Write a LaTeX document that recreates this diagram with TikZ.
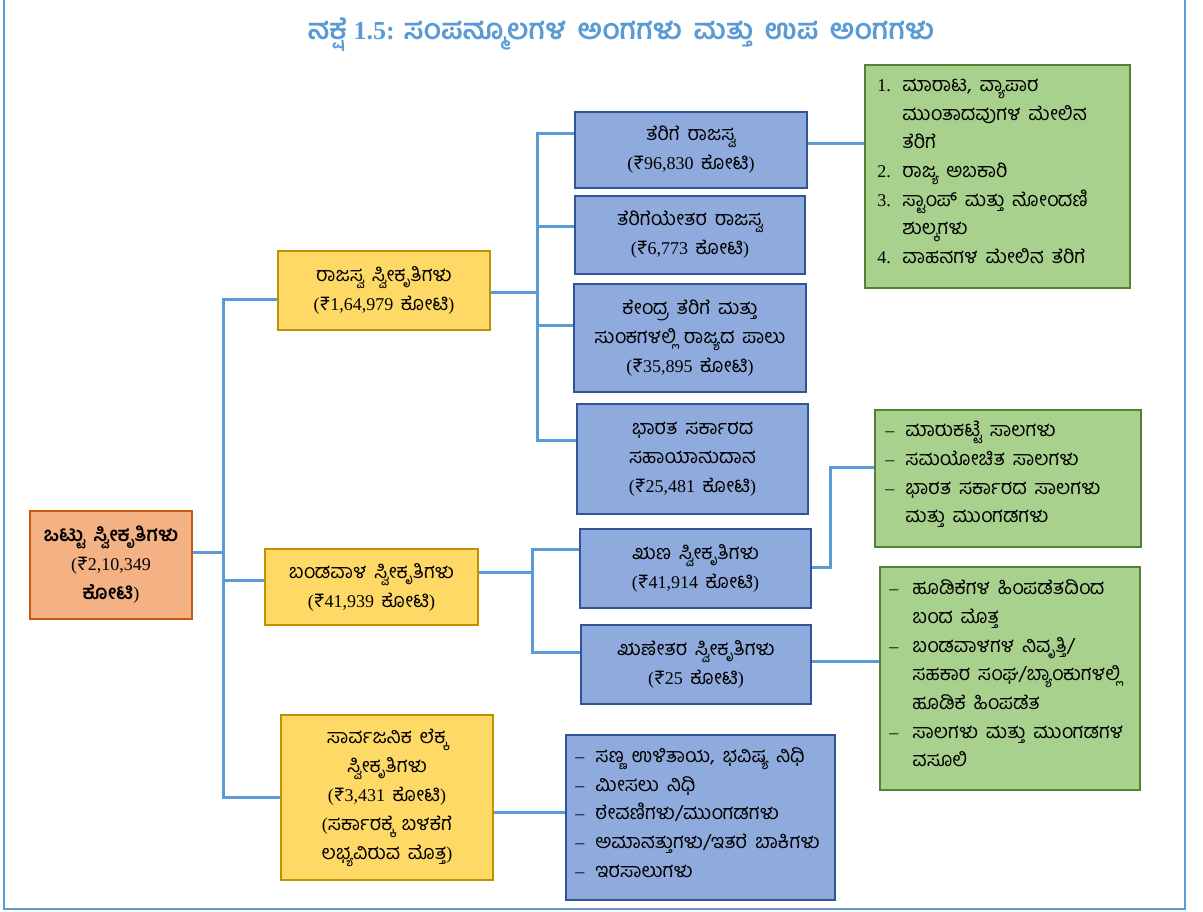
\documentclass[tikz,border=0pt]{standalone}
\usepackage{fontspec}
\setmainfont{Liberation Serif}
\newfontfamily\kn[Script=Kannada, Scale=1.1, WordSpace=1.6]{Hind Mysuru}
\newcommand\K[1]{{\kn #1}}
\newcommand\Rs{\K{₹}}
\newcommand\kt{\K{ ಕೋಟಿ}}
\newlength\labw
\newcommand\lab[1]{\makebox[\labw][l]{#1}}
\newcommand\ind{\hspace*{\labw}}
\lineskiplimit=-100pt
\lineskip=0pt
\definecolor{conncol}{HTML}{5B9BD5}
\definecolor{yfill}{HTML}{FFD966}
\definecolor{yline}{HTML}{BF9000}
\definecolor{ofill}{HTML}{F4B183}
\definecolor{oline}{HTML}{C55A11}
\definecolor{bfill}{HTML}{8FAADC}
\definecolor{bline}{HTML}{2F5597}
\definecolor{gfill}{HTML}{A9D18E}
\definecolor{gline}{HTML}{548235}
\tikzset{
  box/.style={draw, line width=1.6pt, align=center, inner sep=0pt,
    font=\fontsize{18}{29}\selectfont},
  yel/.style={box, fill=yfill, draw=yline},
  org/.style={box, fill=ofill, draw=oline},
  blu/.style={box, fill=bfill, draw=bline},
  grn/.style={box, fill=gfill, draw=gline},
  listtext/.style={align=left, anchor=west, inner sep=0pt,
    font=\fontsize{18}{28.7}\selectfont},
  conn/.style={draw=conncol, line width=3pt},
}
\begin{document}
\begin{tikzpicture}[x=1pt,y=-1pt]
\useasboundingbox (0,0) rectangle (1203,911);
\fill[white] (0,0) rectangle (1203,911);
\draw[conncol, line width=2pt] (4,0) -- (4,909) -- (1185,909) -- (1185,0);

\node[font=\fontsize{26}{30}\selectfont\bfseries, text=conncol] (title) at (621,35)
  {\K{ನಕ್ಷೆ} 1.5: \K{ಸಂಪನ್ಮೂಲಗಳ ಅಂಗಗಳು ಮತ್ತು ಉಪ ಅಂಗಗಳು}};

% level 0
\node[org, minimum width=162pt, minimum height=108pt] (root) at (111,565)
  {\K{\bfseries ಒಟ್ಟು ಸ್ವೀಕೃತಿಗಳು}\\ (\Rs 2,10,349\\ \K{\bfseries ಕೋಟಿ})};

% level 1
\node[yel, minimum width=212pt, minimum height=79pt] (raj) at (384,290.5)
  {\K{ರಾಜಸ್ವ ಸ್ವೀಕೃತಿಗಳು}\\ (\Rs 1,64,979\kt)};
\node[yel, minimum width=213pt, minimum height=76pt] (band) at (371.5,587)
  {\K{ಬಂಡವಾಳ ಸ್ವೀಕೃತಿಗಳು}\\ (\Rs 41,939\kt)};
\node[yel, minimum width=212pt, minimum height=165pt] (sarv) at (387,797.5)
  {\K{ಸಾರ್ವಜನಿಕ ಲೆಕ್ಕ}\\ \K{ಸ್ವೀಕೃತಿಗಳು}\\ (\Rs 3,431\kt)\\ (\K{ಸರ್ಕಾರಕ್ಕೆ ಬಳಕೆಗೆ}\\ \K{ಲಭ್ಯವಿರುವ ಮೊತ್ತ})};

% level 2
\node[blu, minimum width=232pt, minimum height=76pt] (t1) at (691,150)
  {\K{ತೆರಿಗೆ ರಾಜಸ್ವ}\\ (\Rs 96,830\kt)};
\node[blu, minimum width=230pt, minimum height=78pt] (t2) at (690,235)
  {\K{ತೆರಿಗೆಯೇತರ ರಾಜಸ್ವ}\\ (\Rs 6,773\kt)};
\node[blu, minimum width=232pt, minimum height=108pt] (t3) at (690,338)
  {\K{ಕೇಂದ್ರ ತೆರಿಗೆ ಮತ್ತು}\\ \K{ಸುಂಕಗಳಲ್ಲಿ ರಾಜ್ಯದ ಪಾಲು}\\ (\Rs 35,895\kt)};
\node[blu, minimum width=231pt, minimum height=110pt] (t4) at (692.5,459)
  {\K{ಭಾರತ ಸರ್ಕಾರದ}\\ \K{ಸಹಾಯಾನುದಾನ}\\ (\Rs 25,481\kt)};
\node[blu, minimum width=231pt, minimum height=79pt] (rn1) at (695.5,568.5)
  {\K{ಋಣ ಸ್ವೀಕೃತಿಗಳು}\\ (\Rs 41,914\kt)};
\node[blu, minimum width=230pt, minimum height=79pt] (rn2) at (696,664.5)
  {\K{ಋಣೇತರ ಸ್ವೀಕೃತಿಗಳು}\\ (\Rs 25\kt)};

% list boxes
\node[blu, minimum width=269pt, minimum height=165pt] (plist) at (700.5,817.5) {};
\node[grn, minimum width=265pt, minimum height=223pt] (g1) at (997.5,176.5) {};
\node[grn, minimum width=266pt, minimum height=137pt] (g2) at (1008,478.5) {};
\node[grn, minimum width=260pt, minimum height=223pt] (g3) at (1010,678.5) {};

% list texts
\setlength\labw{20pt}
\node[listtext, xshift=10pt, yshift=5pt] (plistt) at (plist.west)
  {\lab{–}\K{ಸಣ್ಣ ಉಳಿತಾಯ, ಭವಿಷ್ಯ ನಿಧಿ}\\
   \lab{–}\K{ಮೀಸಲು ನಿಧಿ}\\
   \lab{–}\K{ಠೇವಣಿಗಳು/ಮುಂಗಡಗಳು}\\
   \lab{–}\K{ಅಮಾನತ್ತುಗಳು/ಇತರೆ ಬಾಕಿಗಳು}\\
   \lab{–}\K{ಇರಸಾಲುಗಳು}};
\setlength\labw{25pt}
\node[listtext, xshift=13pt, yshift=5pt] (g1t) at (g1.west)
  {\lab{1.}\K{ಮಾರಾಟ, ವ್ಯಾಪಾರ}\\
   \ind\K{ಮುಂತಾದವುಗಳ ಮೇಲಿನ}\\
   \ind\K{ತೆರಿಗೆ}\\
   \lab{2.}\K{ರಾಜ್ಯ ಅಬಕಾರಿ}\\
   \lab{3.}\K{ಸ್ಟಾಂಪ್ ಮತ್ತು ನೋಂದಣಿ}\\
   \ind\K{ಶುಲ್ಕಗಳು}\\
   \lab{4.}\K{ವಾಹನಗಳ ಮೇಲಿನ ತೆರಿಗೆ}};
\setlength\labw{20pt}
\node[listtext, xshift=11pt, yshift=4pt] (g2t) at (g2.west)
  {\lab{–}\K{ಮಾರುಕಟ್ಟೆ ಸಾಲಗಳು}\\
   \lab{–}\K{ಸಮಯೋಚಿತ ಸಾಲಗಳು}\\
   \lab{–}\K{ಭಾರತ ಸರ್ಕಾರದ ಸಾಲಗಳು}\\
   \ind\K{ಮತ್ತು ಮುಂಗಡಗಳು}};
\setlength\labw{23pt}
\node[listtext, xshift=10pt, yshift=5pt] (g3t) at (g3.west)
  {\lab{–}\K{ಹೂಡಿಕೆಗಳ ಹಿಂಪಡೆತದಿಂದ}\\
   \ind\K{ಬಂದ ಮೊತ್ತ}\\
   \lab{–}\K{ಬಂಡವಾಳಗಳ ನಿವೃತ್ತಿ/}\\
   \ind\K{ಸಹಕಾರ ಸಂಘ/ಬ್ಯಾಂಕುಗಳಲ್ಲಿ}\\
   \ind\K{ಹೂಡಿಕೆ ಹಿಂಪಡೆತ}\\
   \lab{–}\K{ಸಾಲಗಳು ಮತ್ತು ಮುಂಗಡಗಳ}\\
   \ind\K{ವಸೂಲಿ}};

% connector coordinates
\coordinate (b0) at (223,552);
\coordinate (bt) at (223,299);
\coordinate (bm) at (223,580);
\coordinate (bb) at (223,797);
\coordinate (rb) at (537,292);
\coordinate (r1) at (537,133);
\coordinate (r2) at (537,226);
\coordinate (r3) at (537,325);
\coordinate (r4) at (537,440);
\coordinate (d0) at (532,572);
\coordinate (d1) at (532,549);
\coordinate (d2) at (532,652);
\coordinate (c1) at (840,143);
\coordinate (k1) at (830,567);
\coordinate (k2) at (830,467);
\coordinate (k3) at (850,661);
\coordinate (k4) at (530,812);

\draw[conn] (root.east|-b0) -- (b0);
\draw[conn] (raj.west|-bt) -- (bt) -- (bb) -- (sarv.west|-bb);
\draw[conn] (bm) -- (band.west|-bm);
\draw[conn] (raj.east|-rb) -- (rb);
\draw[conn] (t1.west|-r1) -- (r1) -- (r4) -- (t4.west|-r4);
\draw[conn] (r2) -- (t2.west|-r2);
\draw[conn] (r3) -- (t3.west|-r3);
\draw[conn] (band.east|-d0) -- (d0);
\draw[conn] (rn1.west|-d1) -- (d1) -- (d2) -- (rn2.west|-d2);
\draw[conn] (t1.east|-c1) -- (g1.west|-c1);
\draw[conn] (rn1.east|-k1) -- (k1) -- (k2) -- (g2.west|-k2);
\draw[conn] (rn2.east|-k3) -- (g3.west|-k3);
\draw[conn] (sarv.east|-k4) -- (plist.west|-k4);
\end{tikzpicture}
\end{document}
